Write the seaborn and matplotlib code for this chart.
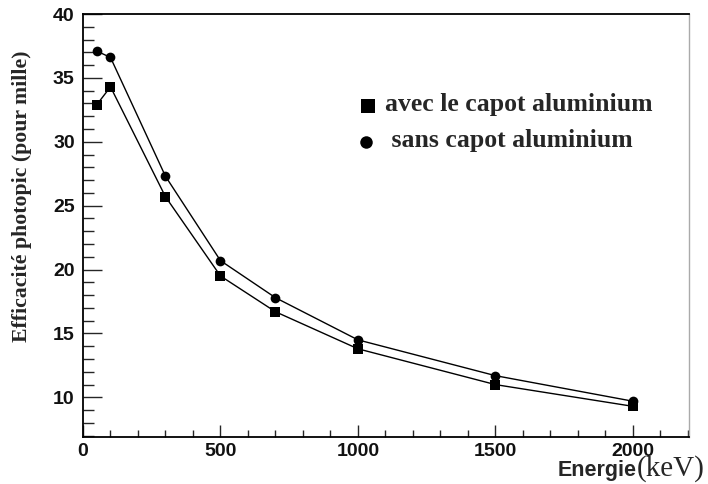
import matplotlib
matplotlib.use("Agg")
import matplotlib.pyplot as plt
import seaborn as sns
import pandas as pd
from matplotlib.ticker import MultipleLocator
from matplotlib.lines import Line2D

energies = [50, 100, 300, 500, 700, 1000, 1500, 2000]
avec = [32.9, 34.3, 25.7, 19.5, 16.7, 13.8, 11.0, 9.3]
sans = [37.1, 36.6, 27.3, 20.7, 17.8, 14.5, 11.7, 9.7]
label_avec = "avec le capot aluminium"
label_sans = " sans capot aluminium"

df_avec = pd.DataFrame({"E": energies, "eff": avec})
df_sans = pd.DataFrame({"E": energies, "eff": sans})

sns.set_style("ticks")
fig = plt.figure(figsize=(7.08, 4.84), dpi=100)
ax = fig.add_axes([83/708, 1-437/484, (689-83)/708, (437-14)/484])

sns.lineplot(data=df_avec, x="E", y="eff", color="black", marker="s",
             markersize=7.5, linewidth=1.0, markeredgewidth=0, ax=ax, sort=False)
sns.lineplot(data=df_sans, x="E", y="eff", color="black", marker="o",
             markersize=7, linewidth=1.0, markeredgewidth=0, ax=ax, sort=False)

ax.set_xlim(0, 2204)
ax.set_ylim(6.9, 40)
ax.xaxis.set_major_locator(MultipleLocator(500))
ax.xaxis.set_minor_locator(MultipleLocator(100))
ax.yaxis.set_major_locator(MultipleLocator(5))
ax.yaxis.set_minor_locator(MultipleLocator(1))
ax.set_yticks([10, 15, 20, 25, 30, 35, 40])
ax.tick_params(axis="x", which="major", direction="in", length=9, width=1, pad=4)
ax.tick_params(axis="x", which="minor", direction="in", length=5, width=1)
ax.tick_params(axis="y", which="major", direction="in", length=14, width=1, pad=6)
ax.tick_params(axis="y", which="minor", direction="in", length=8, width=1)
for lab in ax.get_xticklabels() + ax.get_yticklabels():
    lab.set_fontfamily("Liberation Sans")
    lab.set_fontweight("bold")
    lab.set_fontsize(14)
    lab.set_color("#111111")
ax.set_xlabel("")
ax.set_ylabel("")
for s in ["left", "bottom", "top"]:
    ax.spines[s].set_color("black")
    ax.spines[s].set_linewidth(1.3)
ax.spines["right"].set_color("#aaaaaa")
ax.spines["right"].set_linewidth(1.0)

# legend-like annotation
fig.lines.append(Line2D([368/708], [1-106/484], marker="s", color="black", markersize=10.5,
                        markeredgewidth=0, transform=fig.transFigure))
fig.lines.append(Line2D([366/708], [1-142/484], marker="o", color="black", markersize=9,
                        markeredgewidth=0, transform=fig.transFigure))
fig.text(385/708, 1-104/484, label_avec, fontfamily="Liberation Serif", fontweight="bold",
         fontsize=18.5, va="center", ha="left")
fig.text(385/708, 1-141/484, label_sans, fontfamily="Liberation Serif", fontweight="bold",
         fontsize=18.5, va="center", ha="left")

fig.text(22/708, 1-196/484, "Efficacité photopic (pour mille)", rotation=90,
         fontfamily="Liberation Serif", fontweight="bold", fontsize=15.7,
         va="center", ha="center")
fig.text(637/708, 1-476/484, "Energie", fontfamily="Liberation Sans", fontweight="bold",
         fontsize=15.5, ha="right", va="baseline")
fig.text(637/708, 1-476/484, "(keV)", fontfamily="Liberation Serif",
         fontsize=21, ha="left", va="baseline")

fig.savefig("out.png", dpi=100)
